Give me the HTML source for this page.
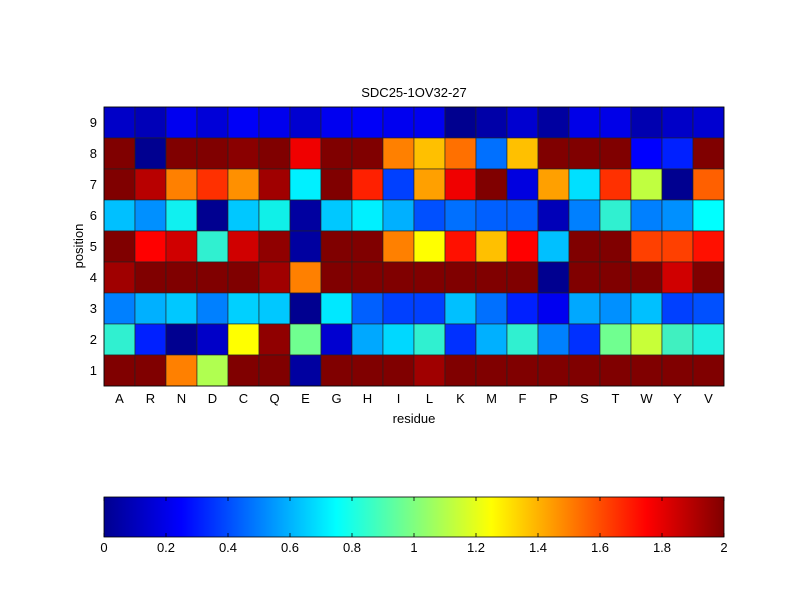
<!DOCTYPE html>
<html><head><style>body{margin:0;background:#fff}svg{display:block}text{font-family:"Liberation Sans",sans-serif;font-size:13px;fill:#000}</style></head>
<body>
<svg width="800" height="600" xmlns="http://www.w3.org/2000/svg">
<rect width="800" height="600" fill="#fff"/>
<defs><linearGradient id="jet" x1="0" x2="1" y1="0" y2="0">
<stop offset="0" stop-color="#00008f"/><stop offset="0.125" stop-color="#0000ff"/><stop offset="0.375" stop-color="#00ffff"/><stop offset="0.625" stop-color="#ffff00"/><stop offset="0.875" stop-color="#ff0000"/><stop offset="1" stop-color="#800000"/></linearGradient></defs>
<g id="grid" stroke="#222" stroke-width="0.6"></g>
<text x="414" y="97" text-anchor="middle">SDC25-1OV32-27</text>
<text x="414" y="423" text-anchor="middle">residue</text>
<text transform="translate(83,246) rotate(-90)" text-anchor="middle">position</text>
<g id="labels"></g>
<rect x="104" y="497" width="620" height="40" fill="url(#jet)" stroke="#000" stroke-width="0.8"/>
<g id="cb"></g>
</svg>
<script>
var rows=[
"0000c8 0000b8 0000f0 0000d8 0000f8 0000ee 0000d0 0000f0 0000f8 0000f0 0000f0 00008f 0000a8 0000d0 0000a0 0000e8 0000e8 0000b0 0000c8 0000d0",
"800000 000090 800000 800000 8a0000 800000 f00000 800000 800000 ff8000 ffc000 ff7000 0070ff ffc000 800000 800000 800000 0000ff 0020ff 800000",
"800000 b80000 ff8000 ff3000 ff9000 a00000 00f0ff 800000 ff2000 0040ff ffa000 f00000 800000 0000e0 ffa000 00e0ff ff3000 c0ff40 000090 ff6000",
"00c0ff 0090ff 10f0f0 000090 00c8ff 10f0e8 0000a0 00c8ff 00f0ff 00b0ff 0050ff 0070ff 0060ff 0060ff 0000b8 0080ff 30f0d0 0080ff 0090ff 00ffff",
"800000 ff0000 d00000 30f0d0 d00000 900000 0000a0 800000 800000 ff8000 ffff00 ff1000 ffc000 ff0000 00c0ff 800000 800000 ff4000 ff4000 ff1000",
"a00000 800000 800000 800000 800000 a00000 ff8000 800000 800000 800000 800000 800000 800000 800000 000090 800000 800000 800000 d00000 800000",
"0080ff 00b0ff 00c8ff 0080ff 00d0ff 00c8ff 000090 00e8ff 0060ff 0040ff 0040ff 00c0ff 0070ff 0020ff 0000f0 00a8ff 0090ff 00c0ff 0040ff 0050ff",
"30f0d0 0020ff 000090 0000c8 ffff00 900000 70ff90 0000d0 00a8ff 00d8ff 30f0d0 0030ff 00b0ff 30f0d0 0080ff 0030ff 70ff90 c8ff38 40f0c0 20f0e0",
"800000 800000 ff8000 b0ff50 800000 800000 0000a0 800000 800000 800000 a00000 800000 800000 800000 800000 800000 800000 800000 800000 800000"];
var ns="http://www.w3.org/2000/svg",g=document.getElementById("grid"),L=document.getElementById("labels"),C=document.getElementById("cb");
function el(p,t,a,txt){var e=document.createElementNS(ns,t);for(var k in a)e.setAttribute(k,a[k]);if(txt!=null)e.textContent=txt;p.appendChild(e);return e;}
rows.forEach(function(r,i){r.split(" ").forEach(function(c,j){el(g,"rect",{x:104+j*31,y:107+i*31,width:31,height:31,fill:"#"+c});});});
el(g,"rect",{x:104,y:107,width:620,height:279,fill:"none",stroke:"#000","stroke-width":0.8});
"ARNDCQEGHILKMFPSTWYV".split("").forEach(function(ch,j){el(L,"text",{x:119.5+j*31,y:403,"text-anchor":"middle"},ch);});
for(var i=0;i<9;i++)el(L,"text",{x:97,y:127+i*31,"text-anchor":"end"},String(9-i));
for(var k=0;k<=10;k++){var v=k*0.2,x=104+k*62;el(C,"text",{x:x,y:552,"text-anchor":"middle"},k==0?"0":k==10?"2":(Math.round(v*10)/10).toString());
el(C,"line",{x1:x,x2:x,y1:497,y2:501,stroke:"#000","stroke-width":0.8});el(C,"line",{x1:x,x2:x,y1:537,y2:533,stroke:"#000","stroke-width":0.8});}
</script>
</body></html>
